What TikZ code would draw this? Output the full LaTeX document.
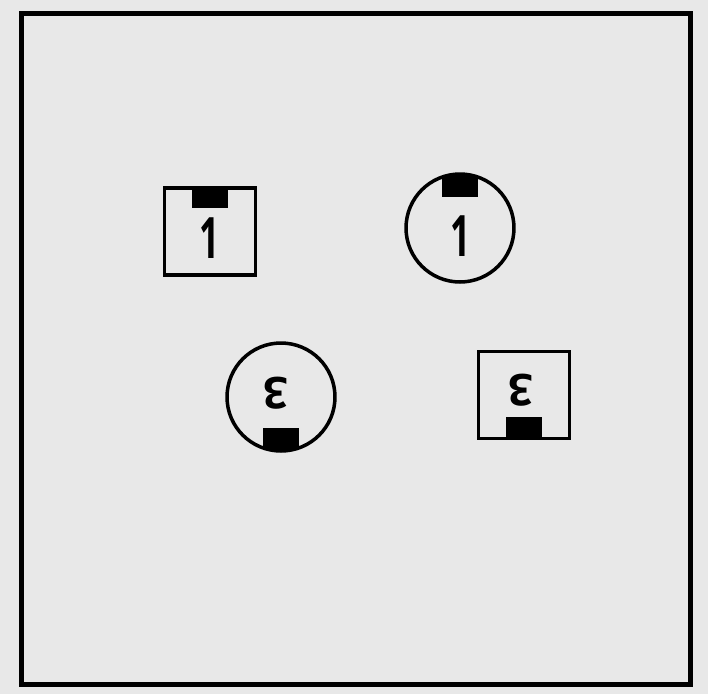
\documentclass[tikz,border=0pt]{standalone}
\usepackage{fontspec}
\newfontfamily\digitfont{Open Sans}
\definecolor{paper}{RGB}{232,232,232}
\tikzset{
  box/.style={draw, line width=2pt, minimum width=1.82cm, minimum height=1.74cm, inner sep=0pt},
  disc/.style={draw, circle, line width=2pt, minimum size=2.16cm, inner sep=0pt},
  tab/.style={fill=black, minimum width=0.74cm, minimum height=0.42cm, inner sep=0pt},
  digit/.style={font=\fontsize{25}{28}\digitfont\bfseries, inner sep=0pt}
}
\begin{document}
\begin{tikzpicture}[x=0.02cm, y=-0.02cm]
  % paper and frame
  \fill[paper] (0,0) rectangle (708,694);
  \useasboundingbox (0,0) rectangle (708,694);
  \node[draw, line width=2.6pt, minimum width=13.38cm, minimum height=13.42cm] (frame) at (356,349) {};

  % upper pair: tab on top
  \node[box] (sqA) at (210,231.5) {};
  \node[tab, anchor=north] (tabA) at (sqA.north) {};
  \node[digit, xscale=0.8, yscale=1.3] (oneA) at (210,238) {1};

  \node[disc] (ciA) at (460,228) {};
  \begin{scope}
    \clip (ciA.center) circle (1.08cm);
    \node[tab, anchor=north, minimum height=0.48cm] (tabB) at (ciA.north) {};
  \end{scope}
  \node[digit, xscale=0.8, yscale=1.3] (oneB) at (461,236) {1};

  % lower pair: turned round, tab at the bottom
  \node[disc] (ciB) at (281,397) {};
  \begin{scope}
    \clip (ciB.center) circle (1.08cm);
    \node[tab, anchor=south, minimum height=0.48cm] (tabC) at (ciB.south) {};
  \end{scope}
  \node[digit, rotate=180] (threeA) at (276,393) {3};

  \node[box] (sqB) at (524,395) {};
  \node[tab, anchor=south, minimum height=0.46cm] (tabD) at (sqB.south) {};
  \node[digit, rotate=180] (threeB) at (521,390) {3};
\end{tikzpicture}
\end{document}
